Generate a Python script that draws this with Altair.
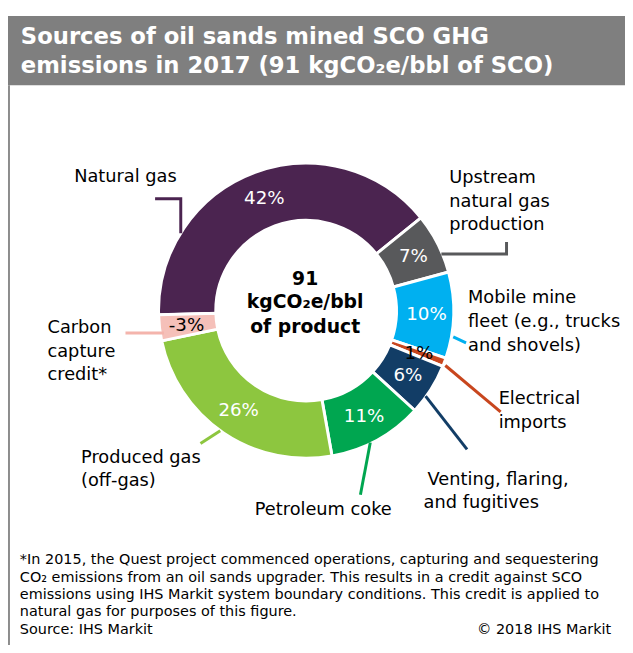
import math
import altair as alt
import pandas as pd

# ---------------- data ----------------
categories = [
    "Natural gas",
    "Upstream natural gas production",
    "Mobile mine fleet",
    "Electrical imports",
    "Venting, flaring, and fugitives",
    "Petroleum coke",
    "Produced gas (off-gas)",
    "Carbon capture credit",
]
shares = [42, 7, 10, 1, 6, 11, 26, -3]
share_labels = ["42%", "7%", "10%", "1%", "6%", "11%", "26%", "-3%"]
slice_colors = ["#4B2450", "#58595B", "#00B0F0", "#C8461E", "#123D66", "#00A650", "#8DC63F", "#F5C0B9"]
label_colors = ["white", "white", "white", "black", "white", "white", "white", "black"]

center_lines = ["91", "kgCO₂e/bbl", "of product"]
title_lines = ["Sources of oil sands mined SCO GHG", "emissions in 2017 (91 kgCO₂e/bbl of SCO)"]
foot_lines = [
    "*In 2015, the Quest project commenced operations, capturing and sequestering",
    "CO₂ emissions from an oil sands upgrader. This results in a credit against SCO",
    "emissions using IHS Markit system boundary conditions. This credit is applied to",
    "natural gas for purposes of this figure.",
    "Source: IHS Markit",
]
copyright_text = "© 2018 IHS Markit"

label_text_lines = [
    ["Natural gas"],
    ["Upstream", "natural gas", "production"],
    ["Mobile mine", "fleet (e.g., trucks", "and shovels)"],
    ["Electrical", "imports"],
    ["Venting, flaring,", "and fugitives"],
    ["Petroleum coke"],
    ["Produced gas", "(off-gas)"],
    ["Carbon", "capture", "credit*"],
]

# ---------------- layout (page pixel coordinates) ----------------
W, H = 625, 637
OFF = 8
CX, CY = 310, 310.5
START_DEG = -91.6
FONT = "DejaVu Sans"

label_anchor = [  # x of text, y of first line, line step, per-line x tweaks
    (75, 175, 24, [0]),
    (455, 176, 24, [0, 0, 0]),
    (474, 298, 24, [0, 0, 0]),
    (505, 400, 24, [0, 0]),
    (433, 482, 23, [0, -4]),
    (258, 512, 24, [0]),
    (82, 460, 23, [0, 0]),
    (48, 328, 24, [0, 0, 0]),
]
leaders = [
    [(157, 197), (183, 197), (183, 232)],
    [(447, 253), (513, 253), (513, 241)],
    [(459, 337), (472, 343)],
    [(451, 366), (507, 413)],
    [(431, 397), (473, 451)],
    [(375, 444), (365, 497)],
    [(223, 432), (203, 445)],
    [(127, 333), (166, 333)],
]

xs = alt.Scale(domain=[OFF, OFF + W], nice=False, zero=False)
ys = alt.Scale(domain=[OFF, OFF + H], nice=False, zero=False, reverse=True)

# ---------------- donut ----------------
start = math.radians(START_DEG) + 2 * math.pi
theta_scale = alt.Scale(range=[start, start + 2 * math.pi])

pie_df = pd.DataFrame({
    "cat": categories,
    "share": shares,
    "label": share_labels,
    "idx": list(range(len(categories))),
})

base = alt.Chart(pie_df).transform_calculate(mag="abs(datum.share)").encode(
    theta=alt.Theta("mag:Q", stack=True, scale=theta_scale),
    order=alt.Order("idx:Q"),
    x=alt.value(CX - OFF),
    y=alt.value(CY - OFF),
)
arcs = base.mark_arc(innerRadius=91.5, outerRadius=149.5, stroke="white", strokeWidth=3).encode(
    color=alt.Color("cat:N", scale=alt.Scale(domain=categories, range=slice_colors), legend=None)
)
pct = base.mark_text(radius=122, font=FONT, fontSize=18.5, baseline="middle", align="center").encode(
    text="label:N",
    fill=alt.Fill("cat:N", scale=alt.Scale(domain=categories, range=label_colors), legend=None),
)

# ---------------- leader lines ----------------
lrows = []
for i, pts in enumerate(leaders):
    for j, (px, py) in enumerate(pts):
        lrows.append({"g": i, "o": j, "x": px, "y": py, "c": slice_colors[i]})
lead_df = pd.DataFrame(lrows)
lead_df.loc[lead_df["g"] == 7, "c"] = "#F4B4AC"
lines = alt.Chart(lead_df).mark_line(strokeWidth=3, strokeCap="butt", strokeJoin="miter").encode(
    x=alt.X("x:Q", scale=xs, axis=None),
    y=alt.Y("y:Q", scale=ys, axis=None),
    detail="g:N",
    order="o:Q",
    color=alt.Color("c:N", scale=None),
)

# ---------------- category labels ----------------
trows = []
for (ax, ay, step, dxs), lines_txt in zip(label_anchor, label_text_lines):
    for k, t in enumerate(lines_txt):
        trows.append({"t": t, "x": ax + dxs[k], "y": ay + k * step})
lab_df = pd.DataFrame(trows)
labels = alt.Chart(lab_df).mark_text(align="left", baseline="middle", font=FONT, fontSize=18, color="black").encode(
    x=alt.X("x:Q", scale=xs, axis=None),
    y=alt.Y("y:Q", scale=ys, axis=None),
    text="t:N",
)

# ---------------- centre text ----------------
cen_df = pd.DataFrame({"t": center_lines, "x": [CX - 1] * 3, "y": [284, 308, 333]})
centre = alt.Chart(cen_df).mark_text(align="center", baseline="alphabetic", font=FONT, fontSize=19,
                                     fontWeight="bold", color="black").encode(
    x=alt.X("x:Q", scale=xs, axis=None),
    y=alt.Y("y:Q", scale=ys, axis=None),
    text="t:N",
)

# ---------------- header ----------------
hdr_df = pd.DataFrame({"x": [5], "x2": [640], "y": [12], "y2": [82]})
header = alt.Chart(hdr_df).mark_rect(color="#7F7F7F").encode(
    x=alt.X("x:Q", scale=xs, axis=None), x2="x2:Q",
    y=alt.Y("y:Q", scale=ys, axis=None), y2="y2:Q",
)
ttl_df = pd.DataFrame({"t": title_lines, "x": [21, 21], "y": [40, 70]})
title = alt.Chart(ttl_df).mark_text(align="left", baseline="alphabetic", font=FONT, fontSize=23,
                                    fontWeight="bold", color="white").encode(
    x=alt.X("x:Q", scale=xs, axis=None),
    y=alt.Y("y:Q", scale=ys, axis=None),
    text="t:N",
)

border_df = pd.DataFrame({"x": [9], "y": [82], "y2": [653]})
border = alt.Chart(border_df).mark_rule(color="#8C8C8C", strokeWidth=2).encode(
    x=alt.X("x:Q", scale=xs, axis=None),
    y=alt.Y("y:Q", scale=ys, axis=None), y2="y2:Q",
)

# ---------------- footnote ----------------
foot_df = pd.DataFrame({"t": foot_lines, "x": [20] * 5, "y": [563, 581, 598.5, 616, 634]})
foot = alt.Chart(foot_df).mark_text(align="left", baseline="middle", font=FONT, fontSize=14.6, color="black").encode(
    x=alt.X("x:Q", scale=xs, axis=None),
    y=alt.Y("y:Q", scale=ys, axis=None),
    text="t:N",
)
copy_df = pd.DataFrame({"t": [copyright_text], "x": [619], "y": [634]})
copy = alt.Chart(copy_df).mark_text(align="right", baseline="middle", font=FONT, fontSize=14.6, color="black").encode(
    x=alt.X("x:Q", scale=xs, axis=None),
    y=alt.Y("y:Q", scale=ys, axis=None),
    text="t:N",
)

chart = alt.layer(header, border, title, arcs, lines, pct, centre, labels, foot, copy).resolve_scale(
    color="independent", fill="independent"
).properties(
    width=W, height=H, autosize="none", padding=0
).configure_view(stroke=None)

chart.save("out.html", embed_options={"renderer": "svg", "actions": False})
